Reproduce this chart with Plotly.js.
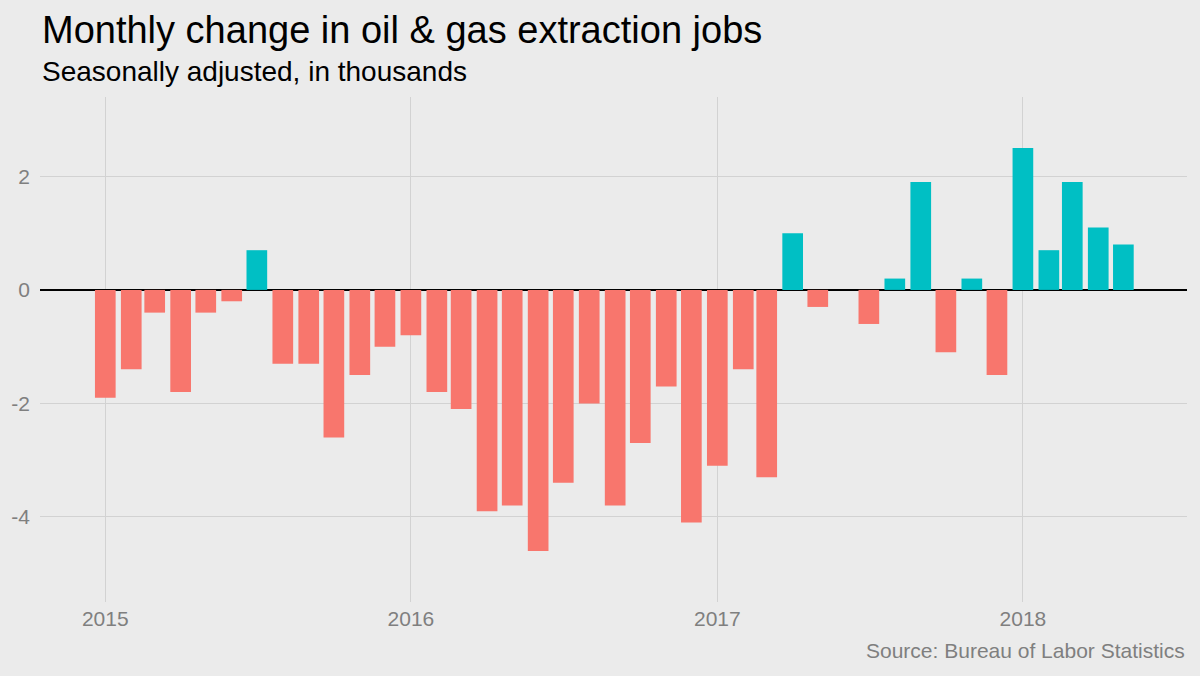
<!DOCTYPE html>
<html>
<head>
<meta charset="utf-8">
<script src="https://cdn.plot.ly/plotly-3.0.1.min.js"></script>
<style>html,body{margin:0;padding:0;background:#EBEBEB;}#chart{width:1200px;height:676px;}</style>
</head>
<body>
<div id="chart"></div>
<script>
const months = [
  "2015-01-01","2015-02-01","2015-03-01","2015-04-01","2015-05-01","2015-06-01",
  "2015-07-01","2015-08-01","2015-09-01","2015-10-01","2015-11-01","2015-12-01",
  "2016-01-01","2016-02-01","2016-03-01","2016-04-01","2016-05-01","2016-06-01",
  "2016-07-01","2016-08-01","2016-09-01","2016-10-01","2016-11-01","2016-12-01",
  "2017-01-01","2017-02-01","2017-03-01","2017-04-01","2017-05-01","2017-06-01",
  "2017-07-01","2017-08-01","2017-09-01","2017-10-01","2017-11-01","2017-12-01",
  "2018-01-01","2018-02-01","2018-03-01","2018-04-01","2018-05-01"
];
const changes = [
  -1.9,-1.4,-0.4,-1.8,-0.4,-0.2,
  0.7,-1.3,-1.3,-2.6,-1.5,-1.0,
  -0.8,-1.8,-2.1,-3.9,-3.8,-4.6,
  -3.4,-2.0,-3.8,-2.7,-1.7,-4.1,
  -3.1,-1.4,-3.3,1.0,-0.3,0.0,
  -0.6,0.2,1.9,-1.1,0.2,-1.5,
  2.5,0.7,1.9,1.1,0.8
];
const yTicks = [-4,-2,0,2];
const yearTicks = ["2015-01-01","2016-01-01","2017-01-01","2018-01-01"];
const yearLabels = ["2015","2016","2017","2018"];

const posColor = "#00BFC4", negColor = "#F8766D";
const DAY = 86400000;

const trace = {
  type: "bar",
  x: months,
  y: changes,
  width: months.map(() => 24.7 * DAY),
  marker: {color: changes.map(v => v > 0 ? posColor : negColor), line: {width: 0}},
  hoverinfo: "x+y"
};

const font = "Liberation Sans, Arial, sans-serif";
const layout = {
  width: 1200, height: 676,
  paper_bgcolor: "#EBEBEB", plot_bgcolor: "#EBEBEB",
  margin: {l: 40, r: 13, t: 97, b: 74},
  showlegend: false,
  font: {family: font},
  xaxis: {
    type: "date",
    range: ["2014-10-15", "2018-07-16"],
    tickvals: yearTicks, ticktext: yearLabels,
    showgrid: true, gridcolor: "#D2D2D2", gridwidth: 1,
    zeroline: false, showline: false, ticks: "",
    ticklabelstandoff: 2,
    tickfont: {size: 21, color: "#7F7F7F", family: font},
    fixedrange: true
  },
  yaxis: {
    range: [-5.5, 3.4],
    tickvals: yTicks, ticktext: yTicks.map(String),
    showgrid: true, gridcolor: "#D2D2D2", gridwidth: 1,
    zeroline: true, zerolinecolor: "#000000", zerolinewidth: 2,
    showline: false, ticks: "", ticklabelstandoff: 9,
    tickfont: {size: 21, color: "#7F7F7F", family: font},
    fixedrange: true
  },
  annotations: [
    {text: "Monthly change in oil & gas extraction jobs", xref: "paper", yref: "paper",
     x: 0, y: 1, yshift: 67, xanchor: "left", yanchor: "middle", showarrow: false,
     font: {size: 38, color: "#000000", family: font}},
    {text: "Seasonally adjusted, in thousands", xref: "paper", yref: "paper",
     x: 0, y: 1, yshift: 26, xanchor: "left", yanchor: "middle", showarrow: false,
     font: {size: 28, color: "#000000", family: font}},
    {text: "Source: Bureau of Labor Statistics", xref: "paper", yref: "paper",
     x: 1, y: 0, yshift: -48, xanchor: "right", yanchor: "middle", showarrow: false,
     font: {size: 21, color: "#7F7F7F", family: font}}
  ]
};

Plotly.newPlot("chart", [trace], layout, {displayModeBar: false, staticPlot: true});
</script>
</body>
</html>
